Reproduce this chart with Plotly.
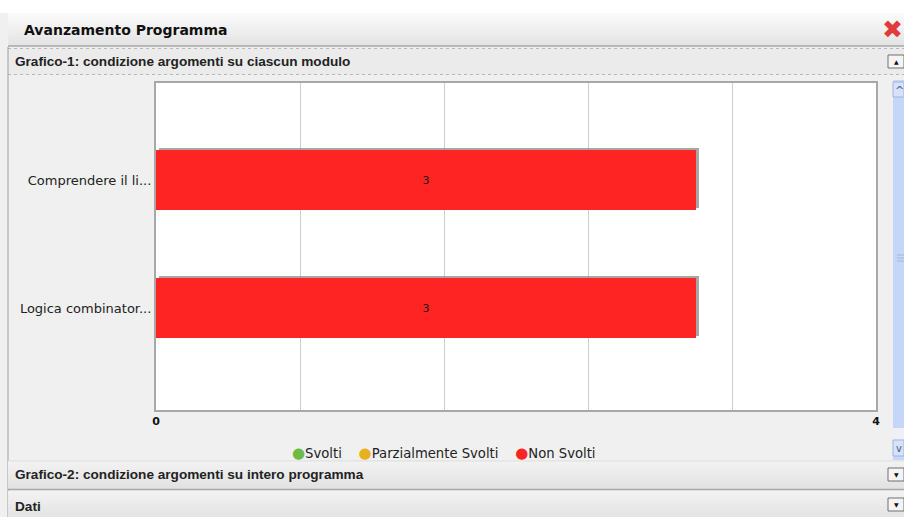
import plotly.graph_objects as go

# Modules (top to bottom) and the state of their topics
moduli = ["Comprendere il li...", "Logica combinator..."]
svolti = [0, 0]
parzialmente_svolti = [0, 0]
non_svolti = [3, 3]

serie_nomi = ["Svolti", "Parzialmente Svolti", "Non Svolti"]
serie_colori = ["#6cbb45", "#e9b11f", "#ff2424"]

x_ticks = [0, 0.8, 1.6, 2.4, 3.2, 4]
x_ticktext = ["0", "", "", "", "", "4"]

# Page geometry (pixels) of the plotting area, used to place the panel chrome
FIG_W, FIG_H = 904, 517
PL, PR, PT, PB = 156, 876, 83, 410


def px(x):
    return (x - PL) / (PR - PL)


def py(y):
    return (PB - y) / (PB - PT)


pos = list(range(len(moduli)))
bar_w = 0.47

fig = go.Figure()

# Soft drop shadow behind each bar, shifted up and to the right
fig.add_trace(go.Bar(
    y=pos, x=non_svolti, orientation="h", base=0.016,
    width=bar_w, offset=-bar_w / 2 - 0.018,
    marker=dict(color="rgba(130,130,130,0.7)", line=dict(width=0)),
    hoverinfo="skip", showlegend=False,
))

# Stacked bars for the three topic states
base = [0] * len(moduli)
for nome, col, vals in zip(serie_nomi, serie_colori, [svolti, parzialmente_svolti, non_svolti]):
    fig.add_trace(go.Bar(
        y=pos, x=vals, base=base, orientation="h", name=nome,
        width=bar_w, offset=-bar_w / 2,
        marker=dict(color=col, line=dict(width=0)),
        text=[str(v) if v else "" for v in vals],
        textposition="inside", insidetextanchor="middle",
        textfont=dict(family="DejaVu Sans", size=11, color="#2a1010"),
        showlegend=False,
    ))
    base = [b + v for b, v in zip(base, vals)]

shapes = []
annotations = []


def rect(x0, y0, x1, y1, fill, line=None, width=0, dash=None, layer="below"):
    shapes.append(dict(
        type="rect", xref="paper", yref="paper",
        x0=px(x0), x1=px(x1), y0=py(y0), y1=py(y1),
        fillcolor=fill, layer=layer,
        line=dict(color=line or "rgba(0,0,0,0)", width=width, dash=dash or "solid"),
    ))


def hline(x0, x1, y, color, width=1, dash="solid"):
    shapes.append(dict(
        type="line", xref="paper", yref="paper",
        x0=px(x0), x1=px(x1), y0=py(y), y1=py(y),
        line=dict(color=color, width=width, dash=dash), layer="below",
    ))


def vline(x, y0, y1, color, width=1):
    shapes.append(dict(
        type="line", xref="paper", yref="paper",
        x0=px(x), x1=px(x), y0=py(y0), y1=py(y1),
        line=dict(color=color, width=width), layer="below",
    ))


def text(x, y, s, size=12, color="#222", family="Liberation Sans", bold=False, anchor="left"):
    annotations.append(dict(
        xref="paper", yref="paper", x=px(x), y=py(y), text=(f"<b>{s}</b>" if bold else s),
        showarrow=False, xanchor=anchor, yanchor="middle",
        font=dict(family=family, size=size, color=color),
    ))


# Legend row: coloured dots next to the series names
legend_html = "    ".join(
    f"<span style='color:{c};font-size:15px'>●</span>{n}" for n, c in zip(serie_nomi, serie_colori)
)
annotations.append(dict(
    xref="paper", yref="paper", x=px(444), y=py(453), text=legend_html,
    showarrow=False, xanchor="center", yanchor="middle",
    font=dict(family="DejaVu Sans", size=13.2, color="#222"),
))

# White strip above the window
rect(0, 0, FIG_W, 13, "#ffffff")

# Window title bar (vertical gradient built from thin bands)
top_c, bot_c = (250, 250, 250), (228, 228, 228)
n = 11
for i in range(n):
    t = i / (n - 1)
    c = tuple(round(a + (b - a) * t) for a, b in zip(top_c, bot_c))
    rect(8, 13 + i * 3, FIG_W, 13 + (i + 1) * 3 + 0.5, "rgb(%d,%d,%d)" % c)
hline(8, FIG_W, 46, "#a8a8a8", 1.5)
text(22, 30, "Avanzamento Programma", size=14, color="#111", family="DejaVu Sans", bold=True)
annotations.append(dict(
    xref="paper", yref="paper", x=px(893), y=py(29), text="✖", showarrow=False,
    xanchor="center", yanchor="middle",
    font=dict(family="DejaVu Sans", size=25, color="#e03a3a"),
))

# Section header: Grafico-1
rect(8, 48, FIG_W, 75, "#ebebeb")
hline(8, FIG_W, 48.5, "#b8b8b8", 1, "dot")
hline(8, FIG_W, 74.5, "#b8b8b8", 1, "dot")
text(13, 62, "Grafico-1: condizione argomenti su ciascun modulo", size=13.6, bold=True)
rect(888, 55, 904, 68, "#f4f4f4", "#707070", 1)
annotations.append(dict(
    xref="paper", yref="paper", x=px(897), y=py(61.5), text="▲", showarrow=False,
    xanchor="center", yanchor="middle", font=dict(family="DejaVu Sans", size=6, color="#111"),
))

# Panel left border
vline(8, 47, FIG_H, "#a0a0a0")

# Vertical scrollbar
rect(893, 80, FIG_W, 460, "#c6d6f8")
rect(893, 82, FIG_W, 97, "#d6e2fb", "#9fb4e0", 1)
annotations.append(dict(
    xref="paper", yref="paper", x=px(899), y=py(90), text="^", showarrow=False,
    xanchor="center", yanchor="middle", font=dict(family="DejaVu Sans", size=11, color="#4a5a80"),
))
rect(893, 428, FIG_W, 440, "#eef0f6")
rect(893, 440, FIG_W, 456, "#d6e2fb", "#9fb4e0", 1)
annotations.append(dict(
    xref="paper", yref="paper", x=px(899), y=py(448), text="v", showarrow=False,
    xanchor="center", yanchor="middle", font=dict(family="DejaVu Sans", size=10, color="#4a5a80"),
))
for yy in (255, 258, 261):
    hline(897, FIG_W, yy, "#9fb4e0", 1)

# Section header: Grafico-2
for i in range(n):
    t = i / (n - 1)
    c = tuple(round(a + (b - a) * t) for a, b in zip((242, 242, 242), (226, 226, 226)))
    rect(8, 461 + i * 2.6, FIG_W, 461 + (i + 1) * 2.6 + 0.5, "rgb(%d,%d,%d)" % c)
hline(8, FIG_W, 461, "#dddddd", 1)
hline(8, FIG_W, 489.5, "#a8a8a8", 1.5)
text(13, 474, "Grafico-2: condizione argomenti su intero programma", size=13.6, bold=True)
rect(888, 468, 904, 481, "#f4f4f4", "#707070", 1)
annotations.append(dict(
    xref="paper", yref="paper", x=px(897), y=py(474.5), text="▼", showarrow=False,
    xanchor="center", yanchor="middle", font=dict(family="DejaVu Sans", size=6, color="#111"),
))

# Section header: Dati
for i in range(n):
    t = i / (n - 1)
    c = tuple(round(a + (b - a) * t) for a, b in zip((242, 242, 242), (226, 226, 226)))
    rect(8, 491 + i * 2.6, FIG_W, 491 + (i + 1) * 2.6 + 0.5, "rgb(%d,%d,%d)" % c)
text(13, 506, "Dati", size=13.6, bold=True)
rect(888, 498, 904, 511, "#f4f4f4", "#707070", 1)
annotations.append(dict(
    xref="paper", yref="paper", x=px(897), y=py(504.5), text="▼", showarrow=False,
    xanchor="center", yanchor="middle", font=dict(family="DejaVu Sans", size=6, color="#111"),
))

fig.update_layout(
    width=FIG_W, height=FIG_H,
    margin=dict(l=PL, r=FIG_W - PR, t=PT, b=FIG_H - PB, pad=0),
    paper_bgcolor="#f0f0f0", plot_bgcolor="#ffffff",
    barmode="overlay", bargap=0,
    shapes=shapes, annotations=annotations,
    showlegend=False,
    xaxis=dict(
        range=[0, 4], tickvals=x_ticks, ticktext=x_ticktext,
        showgrid=True, gridcolor="#cfcfcf", gridwidth=1, zeroline=False,
        showline=True, linecolor="#a8a8a8", linewidth=2, mirror=True,
        ticks="", tickfont=dict(family="DejaVu Sans", size=11, color="#111", weight="bold"),
        ticklabelstandoff=0, fixedrange=True,
    ),
    yaxis=dict(
        range=[1.797, -0.758], tickvals=pos, ticktext=moduli,
        showgrid=False, zeroline=False,
        showline=True, linecolor="#a8a8a8", linewidth=2, mirror=True,
        ticks="", tickfont=dict(family="DejaVu Sans", size=13, color="#222"),
        ticklabelstandoff=0, fixedrange=True,
    ),
)

fig.write_html("out.html")
